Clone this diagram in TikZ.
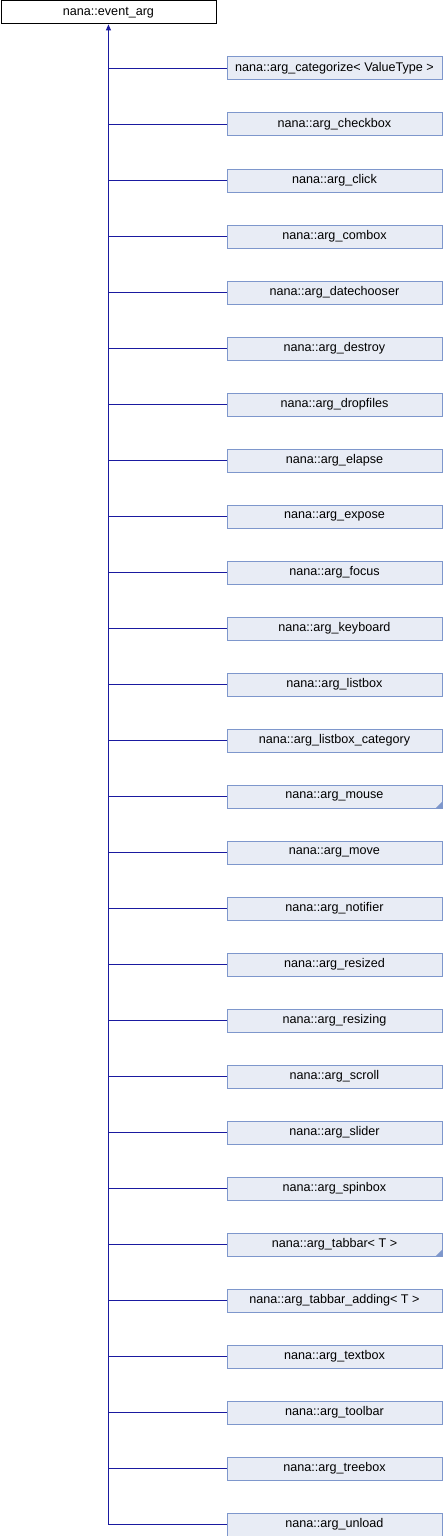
\documentclass[tikz,border=0pt]{standalone}
\usepackage{fontspec}
\setmainfont{Liberation Sans}
\usetikzlibrary{arrows.meta}
\definecolor{boxfill}{HTML}{E8ECF5}
\definecolor{boxline}{HTML}{7E97CC}
\definecolor{edgecol}{HTML}{1A1AA0}
\begin{document}
\begin{tikzpicture}[x=1pt,y=-1pt,
  base/.style={draw=black,fill=white,line width=0.9pt,minimum width=215pt,minimum height=23pt,inner sep=0pt,font=\fontsize{12.6}{14}\selectfont,anchor=north west},
  child/.style={draw=boxline,fill=boxfill,line width=0.9pt,minimum width=215pt,minimum height=23pt,inner sep=0pt,font=\fontsize{12.6}{14}\selectfont,anchor=north west},
  edge/.style={draw=edgecol,line width=1pt},
  tip/.style={-{Triangle[length=6pt,width=5pt]}}]
\useasboundingbox (0,0) rectangle (442,1536);
\node[base] (top) at (0.5,0.5) {nana::event\_arg};
\foreach \i/\t in {0/{nana::arg\_categorize<\ ValueType\ >},1/{nana::arg\_checkbox},2/{nana::arg\_click},3/{nana::arg\_combox},4/{nana::arg\_datechooser},5/{nana::arg\_destroy},6/{nana::arg\_dropfiles},7/{nana::arg\_elapse},8/{nana::arg\_expose},9/{nana::arg\_focus},10/{nana::arg\_keyboard},11/{nana::arg\_listbox},12/{nana::arg\_listbox\_category},13/{nana::arg\_mouse},14/{nana::arg\_move},15/{nana::arg\_notifier},16/{nana::arg\_resized},17/{nana::arg\_resizing},18/{nana::arg\_scroll},19/{nana::arg\_slider},20/{nana::arg\_spinbox},21/{nana::arg\_tabbar<\ T\ >},22/{nana::arg\_tabbar\_adding<\ T\ >},23/{nana::arg\_textbox},24/{nana::arg\_toolbar},25/{nana::arg\_treebox},26/{nana::arg\_unload}} {
  \node[child] (c\i) at (226.5,{56.5+56*\i}) {\t};
  \draw[edge] (c\i.west) -- (c\i.west -| top.south);
}
\draw[edge,tip] (c26.west) -| (top.south);
\foreach \i in {13,21} {
  \fill[boxline] ([xshift=-0.5pt,yshift=0.5pt]c\i.south east) -- ++(-6,0) -- ++(6,-6) -- cycle;
}
\end{tikzpicture}
\end{document}
